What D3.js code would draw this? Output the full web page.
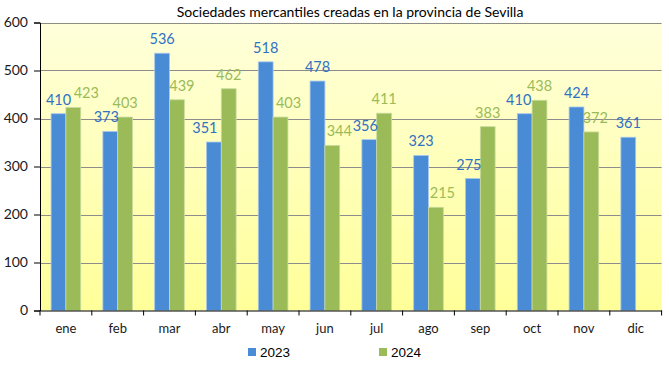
<!DOCTYPE html>
<html><head><meta charset="utf-8">
<script src="https://cdn.jsdelivr.net/npm/d3@7"></script>
<style>body{margin:0;background:#fff}svg{display:block}</style>
</head><body><svg id="c" width="669" height="366"></svg>
<script>
const months = ["ene","feb","mar","abr","may","jun","jul","ago","sep","oct","nov","dic"];
const series = ["2023","2024"];
const values2023 = [410,373,536,351,518,478,356,323,275,410,424,361];
const values2024 = [423,403,439,462,403,344,411,215,383,438,372,null];
const yTicks = [0,100,200,300,400,500,600];
const title = "Sociedades mercantiles creadas en la provincia de Sevilla";
// manual label nudges (px) as in the original chart
const dx2023 = [0,-4,0,-9,0,0,-4,0,-4,-6,0,0];
const dx2024 = [13,0,5,0,8,7,0,6.5,0,0,4,0];

const svg = d3.select("#c");
const L = 40, R = 661.6, T = 22.5, B = 310.5;
const font = "Lato, 'Noto Sans', sans-serif";
const colors = {"2023":"#4A8BD6","2024":"#9BBB59"};
const strokes = {"2023":"#A9C8EC","2024":"#C9DB9F"};
const labelColors = {"2023":"#2F72C4","2024":"#9BBB59"};

const defs = svg.append("defs");
const g = defs.append("linearGradient").attr("id","bg").attr("x1",0).attr("y1",0).attr("x2",0).attr("y2",1);
g.append("stop").attr("offset","0%").attr("stop-color","#FFFFDB");
g.append("stop").attr("offset","100%").attr("stop-color","#FFFF99");

const x0 = d3.scaleBand().domain(months).range([L,R]).padding(0);
const bw = x0.bandwidth();
const x1 = d3.scaleBand().domain(series).range([bw*0.214, bw*0.786]).padding(0);
const y = d3.scaleLinear().domain([0,600]).range([B,T]);

svg.append("rect").attr("x",L).attr("y",T).attr("width",R-L).attr("height",B-T).attr("fill","url(#bg)");

// gridlines
svg.append("g").selectAll("line").data(yTicks.filter(d=>d>0)).join("line")
  .attr("x1",L).attr("x2",R).attr("y1",d=>Math.round(y(d))+0.5).attr("y2",d=>Math.round(y(d))+0.5)
  .attr("stroke","#8C8C8C").attr("stroke-width",1);

// bars
const data = months.map((m,i)=>({m, vals:[{s:"2023",v:values2023[i],dx:dx2023[i]},{s:"2024",v:values2024[i],dx:dx2024[i]}]}));
const grp = svg.append("g").selectAll("g").data(data).join("g").attr("transform",d=>`translate(${x0(d.m)},0)`);
grp.selectAll("rect").data(d=>d.vals.filter(v=>v.v!=null)).join("rect")
  .attr("x",d=>x1(d.s)).attr("width",x1.bandwidth())
  .attr("y",d=>y(d.v)).attr("height",d=>y(0)-y(d.v))
  .attr("fill",d=>colors[d.s]).attr("stroke",d=>strokes[d.s]).attr("stroke-width",0.8);
grp.selectAll("text").data(d=>d.vals.filter(v=>v.v!=null)).join("text")
  .attr("x",d=>x1(d.s)+x1.bandwidth()/2+d.dx).attr("y",d=>y(d.v)-9)
  .attr("text-anchor","middle").attr("font-family",font).attr("font-size",14.5)
  .attr("fill",d=>labelColors[d.s]).text(d=>d.v);

// y axis
const ya = d3.axisLeft(y).tickValues(yTicks).tickSize(6).tickPadding(6);
const yg = svg.append("g").attr("transform",`translate(${L},0)`).call(ya);
yg.select(".domain").attr("stroke","#000");
yg.selectAll(".tick line").attr("stroke","#000");
yg.selectAll(".tick text").attr("font-family",font).attr("font-size",14).attr("fill","#1a1a1a");

// x axis
const xa = d3.axisBottom(x0).tickSize(0).tickPadding(13);
const xg = svg.append("g").attr("transform",`translate(0,${B})`).call(xa);
xg.select(".domain").attr("stroke","#000");
xg.selectAll(".tick text").attr("font-family",font).attr("font-size",13).attr("fill","#1a1a1a");
xg.append("g").selectAll("line").data(months.map(m=>x0(m)).concat([R])).join("line")
  .attr("x1",d=>d).attr("x2",d=>d).attr("y1",0).attr("y2",5).attr("stroke","#000");

// title
svg.append("text").attr("x",350).attr("y",17).attr("text-anchor","middle")
  .attr("font-family",font).attr("font-size",14).attr("fill","#000").text(title);

// legend
const leg = svg.append("g").selectAll("g").data(series).join("g")
  .attr("transform",(d,i)=>`translate(${[248,379][i]},0)`);
leg.append("rect").attr("x",0).attr("y",348).attr("width",8).attr("height",8).attr("fill",d=>colors[d]);
leg.append("text").attr("x",12).attr("y",357).attr("font-family","'Liberation Sans', Arial, sans-serif")
  .attr("font-size",13.5).attr("fill","#000").text(d=>d);
</script></body></html>
